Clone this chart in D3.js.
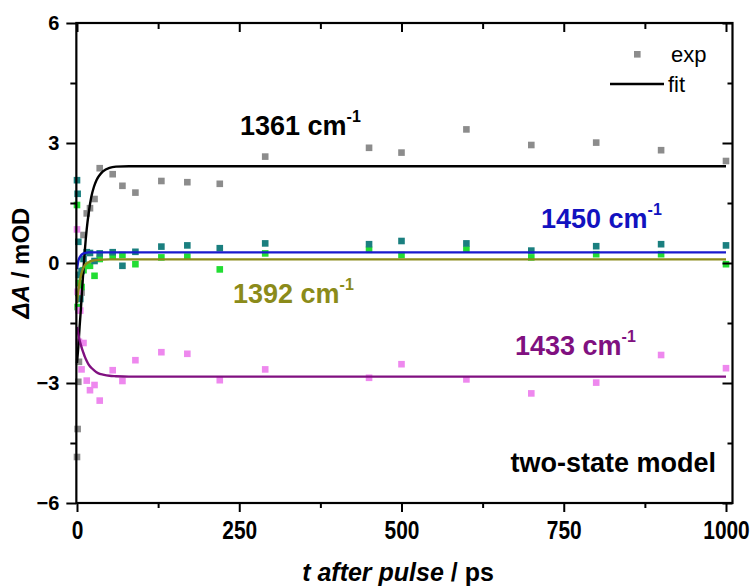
<!DOCTYPE html>
<html>
<head>
<meta charset="utf-8">
<script src="https://cdn.jsdelivr.net/npm/d3@7"></script>
<style>
  body { margin: 0; background: #fff; }
  svg { font-family: "Liberation Sans", Arial, sans-serif; }
</style>
</head>
<body>
<div id="chart"></div>
<script>
// measured delays (ps), shared by all four bands
const times = [0, 1, 2, 3, 5, 7, 10, 15, 20, 27, 35, 55, 70, 90, 130, 170, 220, 290, 450, 500, 600, 700, 800, 900, 1000];
const exp1361 = [-4.85, -4.15, -2.97, -2.47, -0.5, -0.74, 0.7, 1.24, 1.37, 1.6, 2.37, 2.22, 1.93, 1.76, 2.05, 2.02, 1.98, 2.66, 2.88, 2.76, 3.34, 2.95, 3.01, 2.82, 2.55];
const exp1392 = [1.45, -1.1, -0.75, -0.5, -0.3, -0.6, -0.18, -0.07, -0.07, -0.32, 0.1, 0.17, 0.2, -0.03, 0.14, 0.16, -0.16, 0.24, 0.33, 0.2, 0.34, 0.14, 0.22, 0.22, -0.03];
const exp1450 = [2.07, 1.73, 0.53, -0.3, -0.9, -0.2, 0.1, 0.27, 0.25, 0.05, 0.24, 0.27, -0.07, 0.28, 0.41, 0.44, 0.37, 0.49, 0.47, 0.55, 0.49, 0.31, 0.42, 0.47, 0.44];
const exp1433 = [0.84, -0.72, -1.18, -1.97, -1.19, -2.66, -2.0, -2.94, -3.18, -3.05, -3.44, -2.68, -2.95, -2.43, -2.23, -2.27, -2.93, -2.66, -2.87, -2.53, -2.91, -3.26, -2.99, -2.3, -2.63];

// fit curves
const fitTimes = [0, 2, 4, 6, 8, 10, 12, 15, 18, 22, 26, 30, 35, 40, 50, 60, 80, 100, 1000];
const fit1361 = [-2.5, -2.1, -1.6, -1.15, -0.62, -0.15, 0.3, 0.85, 1.25, 1.65, 1.9, 2.07, 2.2, 2.29, 2.38, 2.41, 2.42, 2.42, 2.42];
const fit1392 = [-1.0, -0.7, -0.48, -0.32, -0.2, -0.12, -0.06, -0.01, 0.02, 0.05, 0.065, 0.075, 0.08, 0.085, 0.09, 0.09, 0.09, 0.09, 0.09];
const fit1450 = [-0.15, 0.05, 0.14, 0.19, 0.22, 0.24, 0.25, 0.26, 0.265, 0.265, 0.265, 0.265, 0.265, 0.265, 0.265, 0.265, 0.265, 0.265, 0.265];
const fit1433 = [-1.6, -1.78, -1.93, -2.05, -2.16, -2.25, -2.34, -2.45, -2.54, -2.62, -2.68, -2.73, -2.77, -2.79, -2.82, -2.83, -2.84, -2.84, -2.84];

const xTicks = [0, 250, 500, 750, 1000];
const xMinor = [125, 375, 625, 875];
const yTicks = [-6, -3, 0, 3, 6];
const yMinor = [-4.5, -1.5, 1.5, 4.5];

const series = [
  { exp: exp1361, fit: fit1361, pt: "#8c8c8c", line: "#000000" },
  { exp: exp1392, fit: fit1392, pt: "#22dd33", line: "#8b8b1a" },
  { exp: exp1450, fit: fit1450, pt: "#1a7f7f", line: "#1a1acc" },
  { exp: exp1433, fit: fit1433, pt: "#ee88ee", line: "#801080" }
];

const labels = [
  { text: "1361 cm", x: 240, y: 135, color: "#000000" },
  { text: "1450 cm", x: 541, y: 228, color: "#1212c0" },
  { text: "1392 cm", x: 233, y: 303, color: "#8b8b1a" },
  { text: "1433 cm", x: 515, y: 355, color: "#801080" }
];

const width = 753, height = 587;
const svg = d3.select("#chart").append("svg")
  .attr("width", width).attr("height", height);

const x = d3.scaleLinear().domain([0, 1000]).range([77, 726]);
const y = d3.scaleLinear().domain([-6, 6]).range([503, 23]);
const xL = x(-1), xR = x(1010);

// points first, fits on top
series.forEach(s => {
  svg.append("g").selectAll("rect")
    .data(times.map((t, i) => [t, s.exp[i]]))
    .join("rect")
    .attr("x", d => x(d[0]) - 3.3)
    .attr("y", d => y(d[1]) - 3.3)
    .attr("width", 6.6).attr("height", 6.6)
    .attr("fill", s.pt);
});

const line = d3.line()
  .x(d => x(d[0])).y(d => y(d[1]))
  .curve(d3.curveMonotoneX);

series.forEach(s => {
  svg.append("path")
    .datum(fitTimes.map((t, i) => [t, s.fit[i]]))
    .attr("d", line)
    .attr("fill", "none")
    .attr("stroke", s.line)
    .attr("stroke-width", 2.4);
});

// frame
svg.append("rect")
  .attr("x", xL).attr("y", y(6))
  .attr("width", xR - xL).attr("height", y(-6) - y(6))
  .attr("fill", "none").attr("stroke", "#000").attr("stroke-width", 2.2);

const noDomain = g => g.select(".domain").remove();
const tickStyle = g => g.selectAll(".tick line").attr("stroke", "#000").attr("stroke-width", 2);

// bottom (outward)
const gx = svg.append("g").attr("transform", `translate(0,${y(-6)})`)
  .call(d3.axisBottom(x).tickValues(xTicks).tickSize(9).tickPadding(5).tickFormat(d3.format("d")))
  .call(noDomain).call(tickStyle);
gx.selectAll("text")
  .attr("font-size", 22).attr("font-weight", "bold").attr("fill", "#000")
  .attr("transform", "scale(0.95,1.2)");
svg.append("g").attr("transform", `translate(0,${y(-6)})`)
  .call(d3.axisBottom(x).tickValues(xMinor).tickSize(5).tickFormat(""))
  .call(noDomain).call(tickStyle);

// top (inward)
svg.append("g").attr("transform", `translate(0,${y(6)})`)
  .call(d3.axisBottom(x).tickValues(xTicks).tickSize(9).tickFormat(""))
  .call(noDomain).call(tickStyle);
svg.append("g").attr("transform", `translate(0,${y(6)})`)
  .call(d3.axisBottom(x).tickValues(xMinor).tickSize(6).tickFormat(""))
  .call(noDomain).call(tickStyle);

// left (outward)
const gy = svg.append("g").attr("transform", `translate(${xL},0)`)
  .call(d3.axisLeft(y).tickValues(yTicks).tickSize(10).tickPadding(7).tickFormat(d3.format("d")))
  .call(noDomain).call(tickStyle);
gy.selectAll("text")
  .attr("font-size", 20).attr("font-weight", "bold").attr("fill", "#000");
svg.append("g").attr("transform", `translate(${xL},0)`)
  .call(d3.axisLeft(y).tickValues(yMinor).tickSize(6).tickFormat(""))
  .call(noDomain).call(tickStyle);

// right (inward)
svg.append("g").attr("transform", `translate(${xR},0)`)
  .call(d3.axisRight(y).tickValues(yTicks).tickSize(-10).tickFormat(""))
  .call(noDomain).call(tickStyle);
svg.append("g").attr("transform", `translate(${xR},0)`)
  .call(d3.axisRight(y).tickValues(yMinor).tickSize(-5).tickFormat(""))
  .call(noDomain).call(tickStyle);

// axis titles
const xt = svg.append("text")
  .attr("x", 398).attr("y", 581)
  .attr("text-anchor", "middle")
  .attr("font-size", 25).attr("font-weight", "bold");
xt.append("tspan").attr("font-style", "italic").text("t after pulse");
xt.append("tspan").text(" / ps");

const yt = svg.append("text")
  .attr("transform", "translate(29,263) rotate(-90)")
  .attr("text-anchor", "middle")
  .attr("font-size", 24).attr("font-weight", "bold");
yt.append("tspan").attr("font-style", "italic").text("\u0394A");
yt.append("tspan").text(" / mOD");

// band labels
labels.forEach(l => {
  const t = svg.append("text")
    .attr("x", l.x).attr("y", l.y)
    .attr("font-size", 27).attr("font-weight", "bold").attr("fill", l.color);
  t.append("tspan").text(l.text);
  t.append("tspan").attr("font-size", 16).attr("dy", -13).text("-1");
});

svg.append("text")
  .attr("x", 716).attr("y", 472).attr("text-anchor", "end")
  .attr("font-size", 27).attr("font-weight", "bold")
  .text("two-state model");

// legend
svg.append("rect")
  .attr("x", 634).attr("y", 51).attr("width", 6.6).attr("height", 6.6)
  .attr("fill", "#8c8c8c");
svg.append("text").attr("x", 671).attr("y", 62)
  .attr("font-size", 22).text("exp");
svg.append("line")
  .attr("x1", 610).attr("x2", 664).attr("y1", 84).attr("y2", 84)
  .attr("stroke", "#000").attr("stroke-width", 2.4);
svg.append("text").attr("x", 668).attr("y", 92)
  .attr("font-size", 22).text("fit");
</script>
</body>
</html>
